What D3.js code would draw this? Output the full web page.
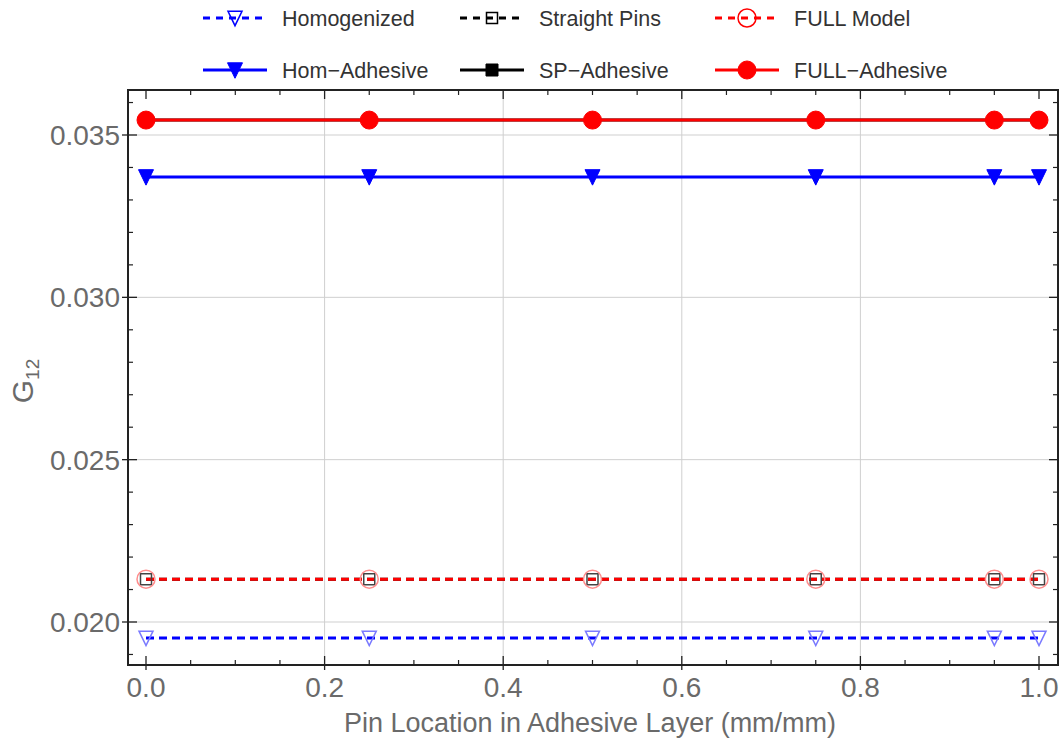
<!DOCTYPE html>
<html>
<head>
<meta charset="utf-8">
<script src="https://cdn.jsdelivr.net/npm/d3@7"></script>
<style>
  body { margin: 0; background: #fff; }
  text { font-family: "Liberation Sans", Arial, sans-serif; }
</style>
</head>
<body>
<svg id="chart" width="1063" height="751"></svg>
<script>
// values
const pinLocation = [0, 0.25, 0.5, 0.75, 0.95, 1.0];
const homogenized = [0.01951, 0.01951, 0.01951, 0.01951, 0.01951, 0.01951];
const straightPins = [0.02132, 0.02132, 0.02132, 0.02132, 0.02132, 0.02132];
const fullModel = [0.02132, 0.02132, 0.02132, 0.02132, 0.02132, 0.02132];
const homAdhesive = [0.03371, 0.03371, 0.03371, 0.03371, 0.03371, 0.03371];
const spAdhesive = [0.03546, 0.03546, 0.03546, 0.03546, 0.03546, 0.03546];
const fullAdhesive = [0.03546, 0.03546, 0.03546, 0.03546, 0.03546, 0.03546];

const xTicks = [0, 0.2, 0.4, 0.6, 0.8, 1.0];
const yTicks = [0.020, 0.025, 0.030, 0.035];

const series = [
  { name: 'Homogenized', values: homogenized, color: '#0000ff', dash: true, marker: 'tri', filled: false, plotColor: '#7a7aff' },
  { name: 'Straight Pins', values: straightPins, color: '#000000', dash: true, marker: 'square', filled: false, plotColor: '#444' },
  { name: 'FULL Model', values: fullModel, color: '#ff0000', dash: true, marker: 'circle', filled: false, plotColor: '#ff8c8c' },
  { name: 'Hom\u2212Adhesive', values: homAdhesive, color: '#0000ff', dash: false, marker: 'tri', filled: true, plotColor: '#0000ff' },
  { name: 'SP\u2212Adhesive', values: spAdhesive, color: '#000000', dash: false, marker: 'square', filled: true, plotColor: '#000' },
  { name: 'FULL\u2212Adhesive', values: fullAdhesive, color: '#ff0000', dash: false, marker: 'circle', filled: true, plotColor: '#ff0000' }
];

const frame = { left: 128, right: 1058, top: 90, bottom: 665 };

const x = d3.scaleLinear().domain([0, 1]).range([146, 1039]);
const y = d3.scaleLinear().domain([0.020, 0.035]).range([622, 135]);

const svg = d3.select('#chart');

// grid
const grid = svg.append('g').attr('stroke', '#cfcfcf').attr('stroke-width', 1);
grid.selectAll('line.v')
  .data(xTicks.filter(d => d > 0 && d < 1))
  .enter().append('line')
  .attr('x1', d => x(d)).attr('x2', d => x(d))
  .attr('y1', frame.top).attr('y2', frame.bottom);
grid.selectAll('line.h')
  .data(yTicks)
  .enter().append('line')
  .attr('x1', frame.left).attr('x2', frame.right)
  .attr('y1', d => y(d)).attr('y2', d => y(d));

// marker shapes
function markerPath(type, size) {
  if (type === 'tri') {
    const w = size / 2;
    return `M${-w},${-size * 0.48}L${w},${-size * 0.48}L0,${size * 0.55}Z`;
  }
  if (type === 'square') {
    const h = size / 2;
    return `M${-h},${-h}H${h}V${h}H${-h}Z`;
  }
  const r = size / 2;
  return `M${-r},0A${r},${r} 0 1,0 ${r},0A${r},${r} 0 1,0 ${-r},0Z`;
}
function markerSize(s) {
  if (s.marker === 'tri') return s.filled ? 15 : 14;
  if (s.marker === 'square') return s.filled ? 12 : 11;
  return 18;
}

const line = d3.line().x((d, i) => x(pinLocation[i])).y(d => y(d));

const plot = svg.append('g');
plot.selectAll('path.series')
  .data(series)
  .enter().append('path')
  .attr('d', d => line(d.values))
  .attr('fill', 'none')
  .attr('stroke', d => d.color)
  .attr('stroke-width', 3)
  .attr('stroke-dasharray', d => d.dash ? '8,5' : null);

series.forEach(s => {
  plot.append('g').selectAll('path')
    .data(s.values)
    .enter().append('path')
    .attr('transform', (d, i) => `translate(${x(pinLocation[i])},${y(d)})`)
    .attr('d', markerPath(s.marker, markerSize(s)))
    .attr('fill', s.filled ? s.plotColor : 'none')
    .attr('stroke', s.plotColor)
    .attr('stroke-width', s.filled ? 1 : 1.5);
});

// frame and ticks
const axes = svg.append('g').attr('stroke', '#222');
axes.append('rect')
  .attr('x', frame.left).attr('y', frame.top)
  .attr('width', frame.right - frame.left).attr('height', frame.bottom - frame.top)
  .attr('fill', 'none').attr('stroke-width', 2);

const xMinor = d3.range(0, 1.0001, 0.05).filter(v => !xTicks.some(t => Math.abs(t - v) < 1e-6));
const yMinor = d3.range(0.019, 0.0365, 0.001).filter(v => !yTicks.some(t => Math.abs(t - v) < 1e-6));

[frame.bottom, frame.top].forEach((yy, k) => {
  const dir = k === 0 ? -1 : 1;
  axes.append('g').selectAll('line').data(xTicks).enter().append('line')
    .attr('x1', d => x(d)).attr('x2', d => x(d))
    .attr('y1', yy - dir * (k === 0 ? 5 : 0)).attr('y2', yy + dir * 9).attr('stroke-width', 1.3);
  axes.append('g').selectAll('line').data(xMinor).enter().append('line')
    .attr('x1', d => x(d)).attr('x2', d => x(d))
    .attr('y1', yy).attr('y2', yy + dir * 5).attr('stroke-width', 1.2);
});
[frame.left, frame.right].forEach((xx, k) => {
  const dir = k === 0 ? 1 : -1;
  axes.append('g').selectAll('line').data(yTicks).enter().append('line')
    .attr('y1', d => y(d)).attr('y2', d => y(d))
    .attr('x1', xx - dir * (k === 0 ? 6 : 0)).attr('x2', xx + dir * 9).attr('stroke-width', 1.3);
  axes.append('g').selectAll('line').data(yMinor).enter().append('line')
    .attr('y1', d => y(d)).attr('y2', d => y(d))
    .attr('x1', xx).attr('x2', xx + dir * 5).attr('stroke-width', 1.2);
});

// tick labels
const labels = svg.append('g').attr('fill', '#6a6a6a').style('font-size', '28px');
labels.selectAll('text.x')
  .data(xTicks)
  .enter().append('text')
  .attr('x', d => x(d)).attr('y', 697)
  .attr('text-anchor', 'middle')
  .text(d => d3.format('.1f')(d));
labels.selectAll('text.y')
  .data(yTicks)
  .enter().append('text')
  .attr('x', 120).attr('y', d => y(d) + 10)
  .attr('text-anchor', 'end')
  .text(d => d3.format('.3f')(d));

// axis titles
svg.append('text')
  .attr('x', 590).attr('y', 732)
  .attr('text-anchor', 'middle')
  .attr('fill', '#6a6a6a')
  .style('font-size', '27px')
  .text('Pin Location in Adhesive Layer (mm/mm)');

const yTitle = svg.append('text')
  .attr('transform', 'translate(33,381) rotate(-90)')
  .attr('text-anchor', 'middle')
  .attr('fill', '#6a6a6a')
  .style('font-size', '30px');
yTitle.append('tspan').text('G');
yTitle.append('tspan').attr('dy', 6).style('font-size', '19px').text('12');

// legend
const legendCols = [203, 460, 715];
const legendRows = [18, 70];
const legend = svg.append('g');
series.forEach((s, i) => {
  const col = legendCols[i % 3];
  const row = legendRows[Math.floor(i / 3)];
  const item = legend.append('g').attr('transform', `translate(${col},${row})`);
  item.append('line')
    .attr('x1', 0).attr('x2', 64).attr('y1', 0).attr('y2', 0)
    .attr('stroke', s.color).attr('stroke-width', 3)
    .attr('stroke-dasharray', s.dash ? '7,6' : null);
  item.append('path')
    .attr('transform', 'translate(32,0)')
    .attr('d', markerPath(s.marker, markerSize(s)))
    .attr('fill', s.filled ? s.color : 'none')
    .attr('stroke', s.color)
    .attr('stroke-width', s.filled ? 1 : 1.5);
  item.append('text')
    .attr('x', 79).attr('y', 8)
    .attr('fill', '#333')
    .style('font-size', '21.5px')
    .text(s.name);
});
</script>
</body>
</html>
